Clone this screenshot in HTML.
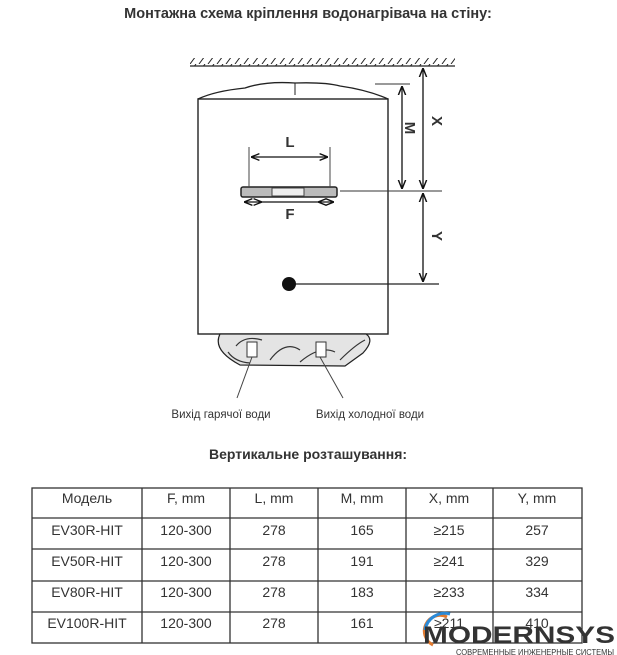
<!DOCTYPE html>
<html><head><meta charset="utf-8"><style>
html,body{margin:0;padding:0;background:#fff;width:617px;height:655px;overflow:hidden}
svg{display:block}
text{font-family:"Liberation Sans","DejaVu Sans",sans-serif;fill:#333}
</style></head><body>
<svg width="617" height="655" viewBox="0 0 617 655" xmlns="http://www.w3.org/2000/svg">
<defs>
<marker id="a" viewBox="0 0 10 10" refX="10" refY="5" markerWidth="7" markerHeight="7" orient="auto-start-reverse"><path d="M0,1 L10,5 L0,9" fill="none" stroke="#111" stroke-width="1.6"/></marker>
<pattern id="h" width="9" height="8" patternUnits="userSpaceOnUse"><line x1="1" y1="8" x2="7" y2="0" stroke="#222" stroke-width="1"/></pattern>
</defs>
<text x="308" y="18" text-anchor="middle" font-size="14.5" font-weight="bold" fill="#222">Монтажна схема кріплення водонагрівача на стіну:</text>
<line x1="190" y1="66" x2="455" y2="66" stroke="#222" stroke-width="1.2"/>
<rect x="190" y="58" width="265" height="8" fill="url(#h)"/>
<path d="M198,99 Q215,91 245,88 Q265,81 295,83 Q325,82 340,86 Q368,90 388,99" fill="none" stroke="#222" stroke-width="1.3"/>
<line x1="295" y1="83" x2="295" y2="95" stroke="#222"/>
<rect x="198" y="99" width="190" height="235" fill="#fff" stroke="#222" stroke-width="1.4"/>
<path d="M220,334 Q212,350 240,365 L345,366 L363,353 Q375,340 366,334 Z" fill="#e4e4e4" stroke="#222" stroke-width="1.2"/>
<path d="M236,346 Q245,335 262,340 M270,360 Q285,340 300,350 M300,362 Q320,345 335,352 M340,360 Q355,345 365,340 M228,352 Q235,362 250,363" fill="none" stroke="#333" stroke-width="1.2"/>
<rect x="247" y="342" width="10" height="15" fill="#fff" stroke="#333"/>
<rect x="316" y="342" width="10" height="15" fill="#fff" stroke="#333"/>
<line x1="252" y1="357" x2="237" y2="398" stroke="#444"/>
<line x1="320" y1="357" x2="343" y2="398" stroke="#444"/>
<text x="221" y="418" text-anchor="middle" font-size="11.5" fill="#222">Вихід гарячої води</text>
<text x="370" y="418" text-anchor="middle" font-size="11.5" fill="#222">Вихід холодної води</text>
<rect x="241" y="187" width="96" height="10" rx="2" fill="#bbb" stroke="#222" stroke-width="1.5"/>
<rect x="272" y="188" width="32" height="8" fill="#eee" stroke="#444"/>
<line x1="249" y1="147" x2="249" y2="187" stroke="#444"/>
<line x1="330" y1="147" x2="330" y2="187" stroke="#444"/>
<line x1="251" y1="157" x2="328" y2="157" stroke="#111" stroke-width="1.2" marker-start="url(#a)" marker-end="url(#a)"/>
<text x="290" y="147" text-anchor="middle" font-size="15" font-weight="bold" fill="#222">L</text>
<line x1="244" y1="202" x2="262" y2="202" stroke="#111" stroke-width="1.2" marker-start="url(#a)" marker-end="url(#a)"/>
<line x1="318" y1="202" x2="334" y2="202" stroke="#111" stroke-width="1.2" marker-start="url(#a)" marker-end="url(#a)"/>
<line x1="262" y1="202" x2="318" y2="202" stroke="#111" stroke-width="1.2"/>
<text x="290" y="219" text-anchor="middle" font-size="15" font-weight="bold" fill="#222">F</text>
<line x1="375" y1="84" x2="410" y2="84" stroke="#333"/>
<line x1="340" y1="191" x2="442" y2="191" stroke="#333"/>
<line x1="402" y1="86" x2="402" y2="189" stroke="#111" stroke-width="1.3" marker-start="url(#a)" marker-end="url(#a)"/>
<line x1="423" y1="68" x2="423" y2="189" stroke="#111" stroke-width="1.3" marker-start="url(#a)" marker-end="url(#a)"/>
<line x1="423" y1="193" x2="423" y2="282" stroke="#111" stroke-width="1.3" marker-start="url(#a)" marker-end="url(#a)"/>
<line x1="290" y1="284" x2="439" y2="284" stroke="#222" stroke-width="1.3"/>
<circle cx="289" cy="284" r="7" fill="#111"/>
<text transform="translate(405,128) rotate(90)" text-anchor="middle" font-size="15" font-weight="bold" fill="#222">M</text>
<text transform="translate(432,121) rotate(90)" text-anchor="middle" font-size="15" font-weight="bold" fill="#222">X</text>
<text transform="translate(432,236) rotate(90)" text-anchor="middle" font-size="15" font-weight="bold" fill="#222">Y</text>
<text x="308" y="459" text-anchor="middle" font-size="14" font-weight="bold" fill="#222">Вертикальне розташування:</text>
<g stroke="#333" stroke-width="1.3" fill="none">
<rect x="32" y="488" width="550" height="155"/>
<line x1="32" y1="518" x2="582" y2="518"/><line x1="32" y1="549" x2="582" y2="549"/><line x1="32" y1="581" x2="582" y2="581"/><line x1="32" y1="612" x2="582" y2="612"/>
<line x1="142" y1="488" x2="142" y2="643"/><line x1="230" y1="488" x2="230" y2="643"/><line x1="318" y1="488" x2="318" y2="643"/><line x1="406" y1="488" x2="406" y2="643"/><line x1="493" y1="488" x2="493" y2="643"/>
</g>
<g font-size="14" text-anchor="middle">
<text x="87" y="503">Модель</text><text x="186" y="503">F, mm</text><text x="274" y="503">L, mm</text><text x="362" y="503">M, mm</text><text x="449" y="503">X, mm</text><text x="537" y="503">Y, mm</text>
<text x="87" y="535">EV30R-HIT</text><text x="186" y="535">120-300</text><text x="274" y="535">278</text><text x="362" y="535">165</text><text x="449" y="535">≥215</text><text x="537" y="535">257</text>
<text x="87" y="566">EV50R-HIT</text><text x="186" y="566">120-300</text><text x="274" y="566">278</text><text x="362" y="566">191</text><text x="449" y="566">≥241</text><text x="537" y="566">329</text>
<text x="87" y="597">EV80R-HIT</text><text x="186" y="597">120-300</text><text x="274" y="597">278</text><text x="362" y="597">183</text><text x="449" y="597">≥233</text><text x="537" y="597">334</text>
<text x="87" y="628">EV100R-HIT</text><text x="186" y="628">120-300</text><text x="274" y="628">278</text><text x="362" y="628">161</text><text x="449" y="628">≥211</text><text x="537" y="628">410</text>
</g>
<path d="M433,645 A14,14 0 0 1 447,617" fill="none" stroke="#e07a30" stroke-width="3"/>
<path d="M425,630 A20,20 0 0 1 450,614" fill="none" stroke="#2a8ad8" stroke-width="3"/>
<text x="423" y="643" font-size="24" font-weight="bold" fill="#333" textLength="192" lengthAdjust="spacingAndGlyphs">MODERNSYS</text>
<text x="456" y="655" font-size="8" fill="#888" textLength="158" lengthAdjust="spacingAndGlyphs">СОВРЕМЕННЫЕ ИНЖЕНЕРНЫЕ СИСТЕМЫ</text>
</svg>
</body></html>
